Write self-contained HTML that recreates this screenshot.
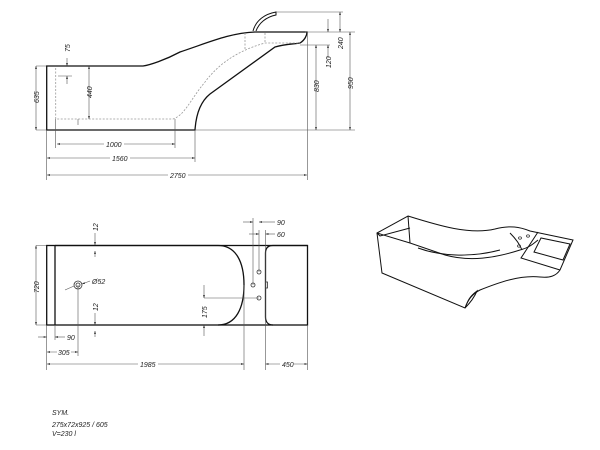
<!DOCTYPE html>
<html><head><style>html,body{margin:0;padding:0;background:#fff;}svg{display:block}</style></head>
<body>
<svg width="600" height="450" viewBox="0 0 600 450" xmlns="http://www.w3.org/2000/svg" font-family="Liberation Sans, sans-serif">
<defs>
<marker id="a" viewBox="0 0 10 10" refX="10" refY="5" markerWidth="5" markerHeight="5" orient="auto-start-reverse"><path d="M0,2 L10,5 L0,8z" fill="#222"/></marker>
</defs>
<g fill="none" stroke="#111" stroke-width="1.3">
<!-- side view outline -->
<path d="M46.7,66 L46.7,130 L195,130 C196,115 200,102 210,94 L275,47 C285,44 295,44 300,43 C305,40 307,35 307,32 L255,32 C230,33 210,42 180,52 C165,60 150,65 143,66 Z"/>
<path d="M253,31 C256,20 265,14 276,12 L276,15 C266,17 259,23 256,31" stroke-width="1"/>
</g>
<g fill="none" stroke="#999" stroke-width="0.8" stroke-dasharray="2,1.5">
<path d="M55.7,68 L55.7,119 L173,119 C185,115 190,100 205,82 C220,62 240,50 265,43 L300,43"/>
<path d="M245,33 L245,50 M265,33 L265,43"/>
</g>
<!-- side dims -->
<g stroke="#555" stroke-width="0.6" fill="none">
<path d="M36,130 L46,130 M36,66 L46,66"/>
<line x1="36" y1="66" x2="36" y2="130" marker-start="url(#a)" marker-end="url(#a)"/>
<line x1="89" y1="66" x2="89" y2="119" marker-start="url(#a)" marker-end="url(#a)"/>
<line x1="67" y1="58" x2="67" y2="66" marker-end="url(#a)"/>
<line x1="67" y1="84" x2="67" y2="76" marker-end="url(#a)"/>
<path d="M58,76 L72,76 M78,119 L78,125"/>
<path d="M195,130 L355,130 M305,32 L355,32 M276,12 L343,12 M300,45 L330,45 M307.5,32 L307.5,180 M195,130 L195,162 M46.7,130 L46.7,180 M55.7,119 L55.7,148 M175,119 L175,148"/>
<line x1="316" y1="45" x2="316" y2="130" marker-start="url(#a)" marker-end="url(#a)"/>
<line x1="328" y1="19" x2="328" y2="32" marker-end="url(#a)"/>
<line x1="328" y1="58" x2="328" y2="45" marker-end="url(#a)"/>
<line x1="340" y1="12" x2="340" y2="32" marker-start="url(#a)" marker-end="url(#a)"/>
<line x1="350" y1="32" x2="350" y2="130" marker-start="url(#a)" marker-end="url(#a)"/>
<line x1="57" y1="144" x2="175" y2="144" marker-start="url(#a)" marker-end="url(#a)"/>
<line x1="47" y1="158" x2="195" y2="158" marker-start="url(#a)" marker-end="url(#a)"/>
<line x1="47" y1="175" x2="307" y2="175" marker-start="url(#a)" marker-end="url(#a)"/>
</g>
<g font-size="7" font-style="italic" fill="#222">
<rect x="104" y="140" width="20" height="8" fill="#fff"/><text x="106" y="147">1000</text>
<rect x="110" y="154" width="20" height="8" fill="#fff"/><text x="112" y="161">1560</text>
<rect x="168" y="171" width="20" height="8" fill="#fff"/><text x="170" y="178">2750</text>
<text transform="translate(39,103) rotate(-90)">635</text>
<text transform="translate(92,98) rotate(-90)">440</text>
<text transform="translate(70,52) rotate(-90)">75</text>
<text transform="translate(319,92) rotate(-90)">830</text>
<text transform="translate(331,68) rotate(-90)">120</text>
<text transform="translate(343,49) rotate(-90)">240</text>
<text transform="translate(353,89) rotate(-90)">950</text>
</g>
<!-- top view -->
<g fill="none" stroke="#111" stroke-width="1.3">
<rect x="46.7" y="245.5" width="260.8" height="79.5"/>
<path d="M55,245.5 L55,325 M55,245.5 L218,245.5 C236,245.5 244,262 244,285 C244,308 236,325 218,325"/>
<path d="M307.5,245.5 L273,245.5 C268,245.5 265.5,248 265.5,253 L265.5,317 C265.5,322 268,325 273,325"/>
</g>
<g fill="none" stroke="#333" stroke-width="0.8">
<circle cx="78" cy="285" r="4"/><circle cx="78" cy="285" r="2"/>
<circle cx="253" cy="285" r="2"/><circle cx="259" cy="272" r="2"/><circle cx="259" cy="298" r="2"/>
<rect x="265.5" y="282" width="2" height="6"/>
</g>
<g stroke="#555" stroke-width="0.6" fill="none">
<path d="M36,245.5 L46,245.5 M36,325 L46,325"/>
<line x1="36" y1="245.5" x2="36" y2="325" marker-start="url(#a)" marker-end="url(#a)"/>
<line x1="95" y1="233" x2="95" y2="245" marker-end="url(#a)"/>
<line x1="95" y1="257" x2="95" y2="251" marker-end="url(#a)"/>
<line x1="95" y1="313" x2="95" y2="325" marker-end="url(#a)"/>
<line x1="95" y1="337" x2="95" y2="331" marker-end="url(#a)"/>
<line x1="90" y1="281" x2="82" y2="284" marker-end="url(#a)"/>
<line x1="65" y1="290" x2="74" y2="286"/>
<path d="M253,285 L253,218 M259,272 L259,230 M265.5,230 L265.5,370 M244,285 L244,370 M78,285 L78,356 M46.7,325 L46.7,370 M55,325 L55,340 M307.5,325 L307.5,370 M204,298 L259,298"/>
<line x1="243" y1="222" x2="253" y2="222" marker-end="url(#a)"/>
<line x1="275" y1="222" x2="259" y2="222" marker-end="url(#a)"/>
<line x1="249" y1="234" x2="259" y2="234" marker-end="url(#a)"/>
<line x1="275" y1="234" x2="265.5" y2="234" marker-end="url(#a)"/>
<line x1="204" y1="285" x2="204" y2="298" marker-end="url(#a)"/>
<line x1="204" y1="336" x2="204" y2="325" marker-end="url(#a)"/>
<line x1="38" y1="337" x2="46.7" y2="337" marker-end="url(#a)"/>
<line x1="65" y1="337" x2="55" y2="337" marker-end="url(#a)"/>
<line x1="47" y1="352" x2="78" y2="352" marker-start="url(#a)" marker-end="url(#a)"/>
<line x1="47" y1="364" x2="244" y2="364" marker-start="url(#a)" marker-end="url(#a)"/>
<line x1="265.5" y1="364" x2="307.5" y2="364" marker-start="url(#a)" marker-end="url(#a)"/>
</g>
<g font-size="7" font-style="italic" fill="#222">
<text transform="translate(39,293) rotate(-90)">720</text>
<text transform="translate(98,231) rotate(-90)">12</text>
<text transform="translate(98,311) rotate(-90)">12</text>
<text transform="translate(207,318) rotate(-90)">175</text>
<text x="92" y="284">Ø52</text>
<text x="277" y="225">90</text>
<text x="277" y="237">60</text>
<text x="67" y="340">90</text>
<rect x="57" y="348" width="14" height="8" fill="#fff"/><text x="58" y="355">305</text>
<rect x="138" y="360" width="20" height="8" fill="#fff"/><text x="140" y="367">1985</text>
<rect x="280" y="360" width="14" height="8" fill="#fff"/><text x="282" y="367">450</text>
<text x="52" y="415">SYM.</text>
<text x="52" y="427">275x72x925 / 605</text>
<text x="52" y="436">V=230 l</text>
</g>
<!-- 3D view -->
<g fill="none" stroke="#111" stroke-width="1">
<path d="M377,233 L408,216 C440,226 470,235 495,229 C510,225 520,227 530,231 L573,240 L560,270 C556,276 550,278 540,277 C520,275 500,282 480,290 C472,294 468,300 465,308 L382,273 L377,233 Z"/>
<path d="M408,216 L410,243 L445,255"/>
<path d="M377,233 L380,236 L410,228"/>
<path d="M410,243 L377,233"/>
<path d="M445,255 C470,262 495,258 520,250 C528,248 532,245 538,240"/>
<path d="M418,248 C440,256 470,258 500,250"/>
<path d="M510,233 C515,238 520,245 522,250"/>
<path d="M538,232 L521,258 L560,270"/>
<path d="M541,238 L534,252 L563,260 L570,244 Z"/>
<path d="M465,308 C468,300 470,296 477,291 C474,298 470,303 465,308"/>
</g>
<g fill="none" stroke="#222" stroke-width="0.7">
<ellipse cx="528" cy="236" rx="1.5" ry="1.2"/><ellipse cx="520" cy="238" rx="1.5" ry="1.2"/><ellipse cx="519" cy="246" rx="1.5" ry="1.2"/>
</g>
</svg>
</body></html>
